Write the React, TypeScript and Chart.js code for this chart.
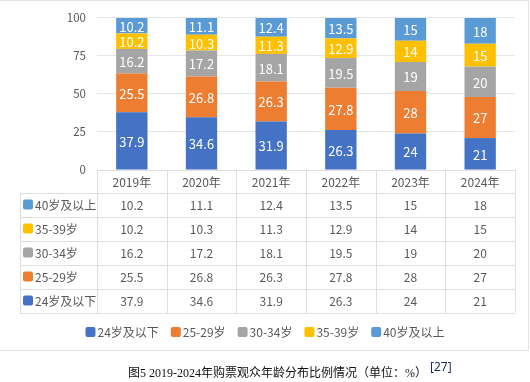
import React, { useEffect, useRef } from "react";
import { Chart, registerables } from "chart.js";

Chart.register(...registerables);

const categories = ["2019年", "2020年", "2021年", "2022年", "2023年", "2024年"];
const seriesNames = ["24岁及以下", "25-29岁", "30-34岁", "35-39岁", "40岁及以上"];
const under24 = [37.9, 34.6, 31.9, 26.3, 24, 21];
const age25to29 = [25.5, 26.8, 26.3, 27.8, 28, 27];
const age30to34 = [16.2, 17.2, 18.1, 19.5, 19, 20];
const age35to39 = [10.2, 10.3, 11.3, 12.9, 14, 15];
const over40 = [10.2, 11.1, 12.4, 13.5, 15, 18];
const seriesColors = ["#4472C4", "#ED7D31", "#A5A5A5", "#FFC000", "#5B9BD5"];
const yMax = 100;
const yStep = 25;
const captionText = "图5 2019-2024年购票观众年龄分布比例情况（单位：%）";
const citation = "[27]";

const FONT = '"Noto Sans CJK SC", "Noto Sans", sans-serif';
const TEXT = "#595959";
const LINE = "#dedede";

const labelPlugin = {
  id: "barLabels",
  afterDatasetsDraw(chart: any) {
    const ctx = chart.ctx;
    const area = chart.chartArea;
    ctx.save();
    ctx.font = `13px ${FONT}`;
    ctx.fillStyle = "#ffffff";
    ctx.textAlign = "center";
    ctx.textBaseline = "middle";
    chart.data.datasets.forEach((ds: any, di: number) => {
      const meta = chart.getDatasetMeta(di);
      meta.data.forEach((el: any, i: number) => {
        const p = el.getProps(["x", "y", "base"], true);
        const top = Math.max(p.y, area.top);
        ctx.fillText(String(ds.data[i]), p.x, (top + p.base) / 2 + 1);
      });
    });
    ctx.restore();
  },
};

const tablePlugin = {
  id: "dataTable",
  afterDraw(chart: any) {
    const ctx = chart.ctx;
    const xs = chart.scales.x;
    const area = chart.chartArea;
    const n = chart.data.labels.length;
    const half = (xs.getPixelForValue(1) - xs.getPixelForValue(0)) / 2;
    const left = Math.round(xs.left);
    const right = Math.round(xs.right);
    const headerTop = Math.round(area.bottom);
    const headerH = 23;
    const rowH = 24;
    const labelLeft = 20;
    const rows = chart.data.datasets.slice().reverse();
    const rowColors = seriesColors.slice().reverse();
    const tableBottom = headerTop + headerH + rowH * rows.length;

    ctx.save();
    ctx.strokeStyle = LINE;
    ctx.lineWidth = 1;
    ctx.beginPath();
    ctx.moveTo(left, headerTop + 0.5);
    ctx.lineTo(right, headerTop + 0.5);
    for (let r = 0; r <= rows.length; r++) {
      const y = headerTop + headerH + rowH * r + 0.5;
      ctx.moveTo(labelLeft, y);
      ctx.lineTo(right, y);
    }
    ctx.moveTo(labelLeft + 0.5, headerTop + headerH);
    ctx.lineTo(labelLeft + 0.5, tableBottom);
    for (let i = 0; i <= n; i++) {
      const x = Math.round(i < n ? xs.getPixelForValue(i) - half : xs.getPixelForValue(n - 1) + half) + 0.5;
      ctx.moveTo(x, headerTop);
      ctx.lineTo(x, tableBottom);
    }
    ctx.stroke();

    ctx.font = `12px ${FONT}`;
    ctx.fillStyle = TEXT;
    ctx.textBaseline = "middle";
    rows.forEach((ds: any, r: number) => {
      const cy = headerTop + headerH + rowH * r + rowH / 2 + 0.5;
      ctx.fillStyle = rowColors[r];
      ctx.beginPath();
      (ctx as any).roundRect(labelLeft + 3, cy - 6, 10, 10, 2);
      ctx.fill();
      ctx.fillStyle = TEXT;
      ctx.textAlign = "left";
      ctx.fillText(ds.label, labelLeft + 15, cy);
      ctx.textAlign = "center";
      ds.data.forEach((v: number, i: number) => {
        ctx.fillText(String(v), xs.getPixelForValue(i), cy);
      });
    });

    // legend
    const ly = 332;
    const gap = 12;
    const widths = seriesNames.map((s) => 12 + ctx.measureText(s).width);
    const total = widths.reduce((a, b) => a + b, 0) + gap * (widths.length - 1);
    let x = chart.width / 2 - total / 2;
    ctx.textAlign = "left";
    seriesNames.forEach((s, i) => {
      ctx.fillStyle = seriesColors[i];
      ctx.beginPath();
      (ctx as any).roundRect(x, ly - 5, 10, 10, 2);
      ctx.fill();
      ctx.fillStyle = TEXT;
      ctx.fillText(s, x + 12, ly);
      x += widths[i] + gap;
    });
    ctx.restore();
  },
};

export default function App() {
  const ref = useRef<HTMLCanvasElement>(null);
  useEffect(() => {
    if (!ref.current) return;
    const seriesValues = [under24, age25to29, age30to34, age35to39, over40];
    const chart = new Chart(ref.current, {
      type: "bar",
      data: {
        labels: categories,
        datasets: seriesNames.map((name, i) => ({
          label: name,
          data: seriesValues[i],
          backgroundColor: seriesColors[i],
          categoryPercentage: 1,
          barPercentage: 0.45,
        })),
      },
      options: {
        responsive: false,
        animation: false,
        layout: { padding: { top: 13, right: 15, bottom: 37, left: 0 } },
        plugins: { legend: { display: false }, tooltip: { enabled: false } },
        scales: {
          x: {
            stacked: true,
            grid: { display: false },
            border: { display: false },
            ticks: { color: TEXT, font: { size: 12, family: FONT }, padding: -3 },
            afterFit: (s: any) => {
              s.height = 143;
            },
          },
          y: {
            stacked: true,
            min: 0,
            max: yMax,
            ticks: { stepSize: yStep, color: TEXT, font: { size: 11.5, family: FONT }, padding: 11 },
            grid: { color: "#e6e6e6", drawTicks: false },
            border: { display: false },
            afterFit: (s: any) => {
              s.width = 97;
            },
          },
        },
      },
      plugins: [labelPlugin, tablePlugin],
    });
    return () => chart.destroy();
  }, []);

  return (
    <div style={{ position: "absolute", left: 0, top: 0, width: 530, height: 382, background: "#fff" }}>
      <canvas ref={ref} width={530} height={350} style={{ position: "absolute", left: 0, top: 0 }} />
      <div
        style={{
          position: "absolute",
          left: -1,
          top: 0,
          width: 530,
          height: 351,
          border: "1px solid #e3e3e3",
          boxSizing: "border-box",
          pointerEvents: "none",
        }}
      />
      <div
        style={{
          position: "absolute",
          left: 128,
          top: 359,
          whiteSpace: "nowrap",
          fontSize: 12,
          lineHeight: "16px",
          color: "#111",
          fontFamily: '"Liberation Serif", "Noto Sans CJK SC", serif',
        }}
      >
        {captionText}
        <sup style={{ fontSize: 12, fontFamily: '"Noto Sans", sans-serif', color: "#1c2a55", marginLeft: 3, verticalAlign: "6px" }}>{citation}</sup>
      </div>
    </div>
  );
}
